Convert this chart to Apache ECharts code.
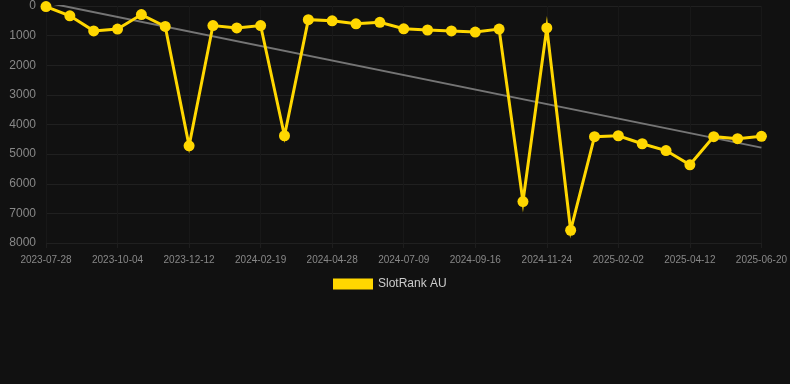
<!DOCTYPE html>
<html>
<head>
<meta charset="utf-8">
<script src="https://cdn.jsdelivr.net/npm/echarts@6/dist/echarts.min.js"></script>
<style>
  html, body { margin: 0; padding: 0; background: #111111; }
  #chart { width: 790px; height: 384px; }
</style>
</head>
<body>
<div id="chart"></div>
<script>
// dates of each rank reading
var dates = [
  '2023-07-28', '2023-08-20', '2023-09-12', '2023-10-04', '2023-10-27', '2023-11-19',
  '2023-12-12', '2024-01-04', '2024-01-27', '2024-02-19', '2024-03-13', '2024-04-05',
  '2024-04-28', '2024-05-22', '2024-06-15', '2024-07-09', '2024-08-01', '2024-08-24',
  '2024-09-16', '2024-10-09', '2024-11-01', '2024-11-24', '2024-12-18', '2025-01-10',
  '2025-02-02', '2025-02-25', '2025-03-20', '2025-04-12', '2025-05-05', '2025-05-28',
  '2025-06-20'
];
var ranks = [
  20, 330, 840, 780, 290, 690,
  4720, 660, 740, 660, 4380, 460,
  500, 600, 550, 770, 810, 840,
  880, 780, 6600, 740, 7570, 4410,
  4380, 4650, 4880, 5360, 4410, 4480,
  4400
];
// trend line end values (first and last date)
var trendEnds = [-120, 4780];
var rankTicks = [0, 1000, 2000, 3000, 4000, 5000, 6000, 7000, 8000];

var chart = echarts.init(document.getElementById('chart'));

var option = {
  backgroundColor: '#111111',
  animation: false,
  grid: { left: 46, right: 28, top: 6, bottom: 141 },
  legend: {
    data: ['SlotRank AU'],
    left: 333,
    top: 278,
    padding: 0,
    itemWidth: 40,
    itemHeight: 11,
    itemGap: 10,
    icon: 'rect',
    textStyle: { color: '#cccccc', fontSize: 12, fontFamily: 'Liberation Sans, Arial, sans-serif' }
  },
  xAxis: {
    type: 'category',
    data: dates,
    boundaryGap: false,
    axisLine: { show: false, onZero: false },
    axisTick: { show: true, interval: 2, length: 5, lineStyle: { color: '#1e1e1e' } },
    axisLabel: {
      interval: 2,
      color: '#888888',
      fontSize: 10,
      margin: 12,
      fontFamily: 'Liberation Sans, Arial, sans-serif'
    },
    splitLine: { show: true, interval: 2, lineStyle: { color: '#181818', width: 1 } }
  },
  yAxis: {
    type: 'value',
    inverse: true,
    min: rankTicks[0],
    max: rankTicks[rankTicks.length - 1],
    interval: 1000,
    axisLine: { show: false },
    axisTick: { show: false },
    axisLabel: {
      color: '#888888',
      fontSize: 12,
      margin: 10,
      formatter: function (v) { return String(v); },
      fontFamily: 'Liberation Sans, Arial, sans-serif'
    },
    splitLine: { lineStyle: { color: '#202020', width: 1 } }
  },
  series: [
    {
      name: 'SlotRank AU',
      type: 'line',
      data: ranks,
      symbol: 'circle',
      symbolSize: 11,
      z: 3,
      itemStyle: { color: '#FFD700' },
      lineStyle: { color: '#FFD700', width: 3, join: 'miter', miterLimit: 10 }
    },
    {
      name: 'trend',
      type: 'line',
      data: [[0, trendEnds[0]], [dates.length - 1, trendEnds[1]]],
      symbol: 'none',
      silent: true,
      z: 2,
      lineStyle: { color: '#757575', width: 2 }
    }
  ]
};

chart.setOption(option);
</script>
</body>
</html>
